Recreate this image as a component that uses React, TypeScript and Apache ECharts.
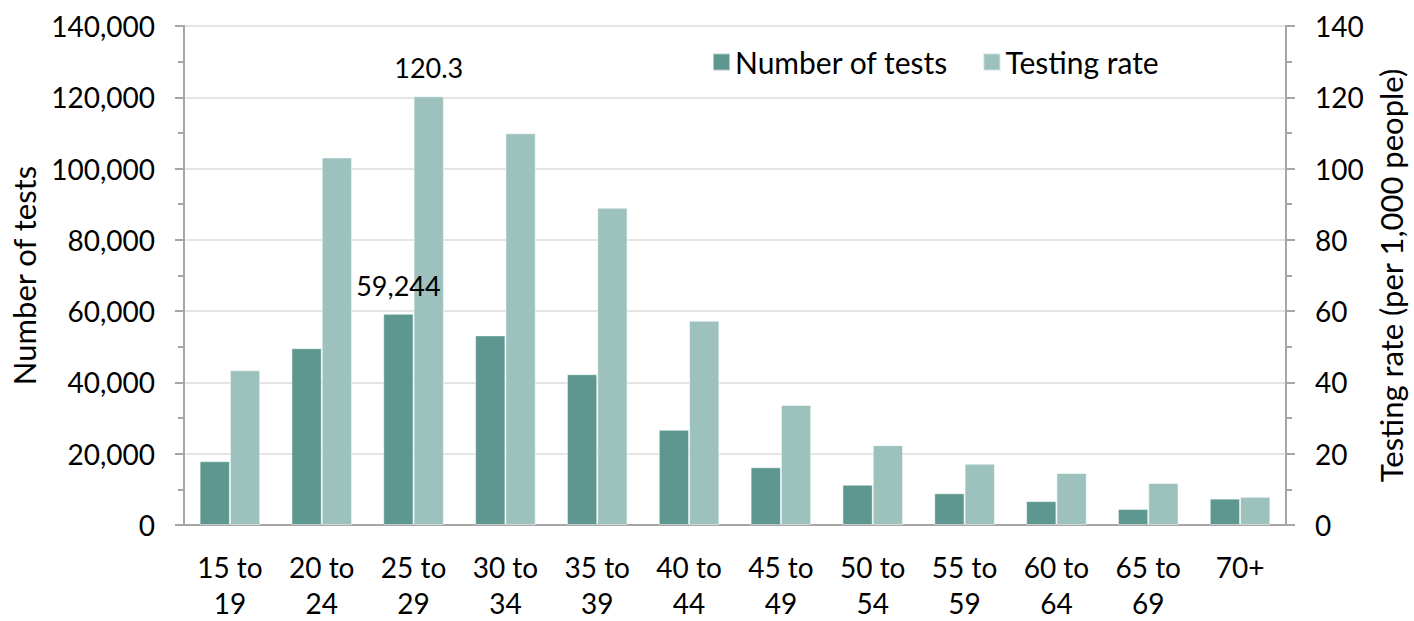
import React, { useEffect, useRef } from "react";
import * as echarts from "echarts";

const categories = ["15 to\n19", "20 to\n24", "25 to\n29", "30 to\n34", "35 to\n39", "40 to\n44", "45 to\n49", "50 to\n54", "55 to\n59", "60 to\n64", "65 to\n69", "70+"];
const numberOfTests = [17900, 49600, 59244, 53200, 42300, 26700, 16200, 11300, 8900, 6700, 4500, 7400];
const testingRate = [43.4, 103.1, 120.3, 109.9, 89.0, 57.3, 33.7, 22.4, 17.2, 14.6, 11.8, 7.9];
const labelledIndex = 2;

const FONT = "Lato";
const DARK = "#5D9790";
const LIGHT = "#9DC2BE";
const AXIS = "#A6A6A6";

export default function App() {
  const ref = useRef<HTMLDivElement>(null);
  useEffect(() => {
    if (!ref.current) return;
    const chart = echarts.init(ref.current, null, { renderer: "svg" });
    const textStyle = { fontFamily: FONT, fontSize: 28, color: "#000" };
    chart.setOption({
      animation: false,
      textStyle: { fontFamily: FONT },
      grid: { left: 181, right: 125, top: 26, bottom: 89, containLabel: false },
      legend: {
        left: 712,
        top: 47,
        padding: 0,
        itemWidth: 17,
        itemHeight: 17,
        itemGap: 34,
        icon: "rect",
        textStyle: { ...textStyle, fontSize: 30, lineHeight: 30 },
        data: ["Number of tests", "Testing rate"],
      },
      xAxis: {
        type: "category",
        data: categories,
        axisLine: { show: true, lineStyle: { color: AXIS, width: 2 } },
        axisTick: { show: false },
        axisLabel: { ...textStyle, fontSize: 28, interval: 0, margin: 24, lineHeight: 36 },
      },
      yAxis: [
        {
          type: "value",
          min: 0,
          max: 140000,
          interval: 20000,
          name: "Number of tests",
          nameLocation: "middle",
          nameGap: 145,
          nameTextStyle: { ...textStyle, fontSize: 31 },
          axisLine: { show: true, lineStyle: { color: AXIS, width: 2 } },
          axisTick: { show: true, length: 9, lineStyle: { color: AXIS, width: 2 } },
          minorTick: { show: true, splitNumber: 2, length: 6, lineStyle: { color: AXIS, width: 2 } },
          splitLine: { show: true, lineStyle: { color: "#E4E4E4", width: 2 } },
          axisLabel: {
            ...textStyle,
            margin: 29,
            padding: [4, 0, 0, 0],
            formatter: (v: number) => v.toLocaleString("en-US"),
          },
        },
        {
          type: "value",
          min: 0,
          max: 140,
          interval: 20,
          name: "Testing rate (per 1,000 people)",
          nameLocation: "middle",
          nameGap: 89,
          nameTextStyle: { ...textStyle, fontSize: 31 },
          axisLine: { show: true, lineStyle: { color: AXIS, width: 2 } },
          axisTick: { show: true, length: 9, lineStyle: { color: AXIS, width: 2 } },
          minorTick: { show: true, splitNumber: 2, length: 6, lineStyle: { color: AXIS, width: 2 } },
          splitLine: { show: false },
          axisLabel: { ...textStyle, margin: 29, padding: [4, 0, 0, 0] },
        },
      ],
      series: [
        {
          name: "Number of tests",
          type: "bar",
          yAxisIndex: 0,
          barGap: "0%",
          barCategoryGap: "34%",
          itemStyle: { color: DARK, borderColor: "rgba(255,255,255,0.5)", borderWidth: 1 },
          data: numberOfTests.map((v, i) =>
            i === labelledIndex
              ? {
                  value: v,
                  label: {
                    show: true,
                    position: "top",
                    distance: 15,
                    ...textStyle,
                    fontSize: 27,
                    formatter: (p: any) => Number(p.value).toLocaleString("en-US"),
                  },
                }
              : v
          ),
        },
        {
          name: "Testing rate",
          type: "bar",
          yAxisIndex: 1,
          barGap: "0%",
          barCategoryGap: "34%",
          itemStyle: { color: LIGHT, borderColor: "rgba(255,255,255,0.5)", borderWidth: 1 },
          data: testingRate.map((v, i) =>
            i === labelledIndex
              ? {
                  value: v,
                  label: {
                    show: true,
                    position: "top",
                    distance: 15,
                    ...textStyle,
                    fontSize: 27,
                    formatter: (p: any) => Number(p.value).toFixed(1),
                  },
                }
              : v
          ),
        },
      ],
    });
    return () => chart.dispose();
  }, []);
  return (
    <div
      ref={ref}
      style={{ position: "absolute", left: 0, top: 0, width: 1414, height: 621, background: "#fff" }}
    />
  );
}
